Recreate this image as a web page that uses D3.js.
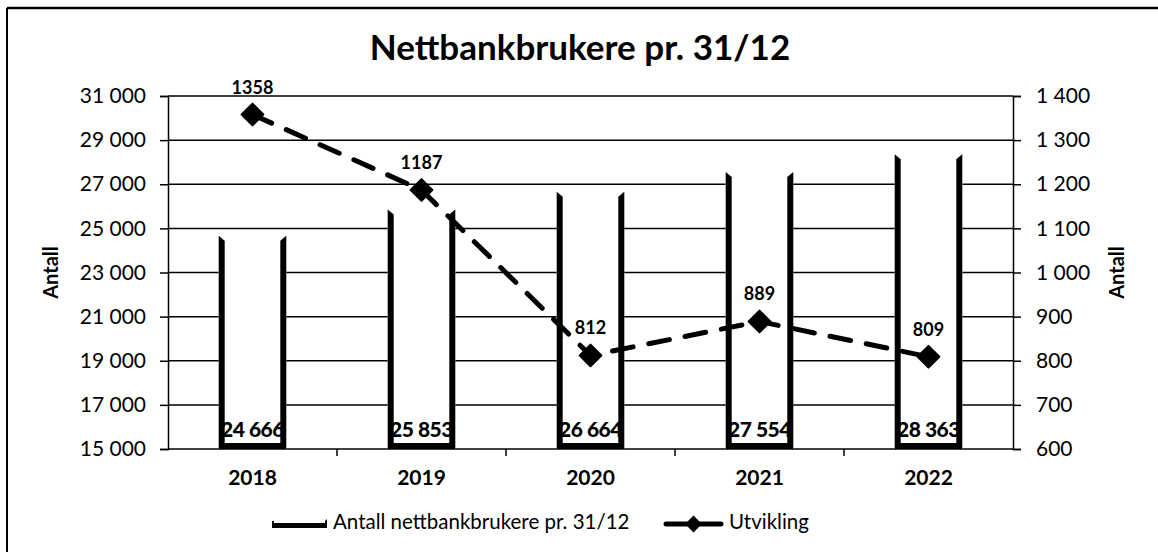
<!DOCTYPE html>
<html>
<head>
<meta charset="utf-8">
<script src="https://cdn.jsdelivr.net/npm/d3@7/dist/d3.min.js"></script>
<style>
  html, body { margin: 0; padding: 0; background: #fff; }
  svg { display: block; }
  text { font-family: Lato, "Open Sans", sans-serif; fill: #000; }
</style>
</head>
<body>
<svg id="chart" width="1158" height="552"></svg>
<script>
const categories = ["2018", "2019", "2020", "2021", "2022"];
const users = [24666, 25853, 26664, 27554, 28363];
const growth = [1358, 1187, 812, 889, 809];
const leftTicks = [15000, 17000, 19000, 21000, 23000, 25000, 27000, 29000, 31000];
const rightTicks = [600, 700, 800, 900, 1000, 1100, 1200, 1300, 1400];
const titleText = "Nettbankbrukere pr. 31/12";
const axisTitle = "Antall";
const barSeriesName = "Antall nettbankbrukere pr. 31/12";
const lineSeriesName = "Utvikling";

const svg = d3.select("#chart");
const plot = { left: 168, right: 1013, top: 96, bottom: 449 };

const fmt = v => d3.format(",")(v).replace(/,/g, " ");

// outer frame
svg.append("line").attr("x1", 7).attr("x2", 1158).attr("y1", 8).attr("y2", 8)
  .attr("stroke", "#000").attr("stroke-width", 2.5);
svg.append("line").attr("x1", 7).attr("x2", 7).attr("y1", 8).attr("y2", 552)
  .attr("stroke", "#000").attr("stroke-width", 2);

const x = d3.scaleBand().domain(categories).range([plot.left, plot.right])
  .paddingInner(0.6).paddingOuter(0.3);
const xb = d3.scaleBand().domain(categories).range([plot.left, plot.right]);
const yL = d3.scaleLinear().domain([15000, 31000]).range([plot.bottom, plot.top]);
const yR = d3.scaleLinear().domain([600, 1400]).range([plot.bottom, plot.top]);

// title
svg.append("text").attr("x", 580).attr("y", 60).attr("text-anchor", "middle")
  .attr("font-size", 35).attr("font-weight", "bold").text(titleText);

// gridlines
svg.append("g").selectAll("line").data(leftTicks.slice(1)).join("line")
  .attr("x1", plot.left).attr("x2", plot.right)
  .attr("y1", d => yL(d)).attr("y2", d => yL(d))
  .attr("stroke", "#000").attr("stroke-width", 1.5);

// left axis
const gL = svg.append("g").attr("transform", `translate(${plot.left},0)`)
  .call(d3.axisLeft(yL).tickValues(leftTicks).tickFormat(fmt).tickSize(8).tickPadding(14));
gL.select(".domain").attr("stroke-width", 1.5);
gL.selectAll(".tick line").attr("stroke-width", 1.5);
gL.selectAll("text").attr("font-size", 21).attr("font-family", "Lato, sans-serif");

// right axis
const gR = svg.append("g").attr("transform", `translate(${plot.right},0)`)
  .call(d3.axisRight(yR).tickValues(rightTicks).tickFormat(fmt).tickSize(8).tickPadding(15));
gR.select(".domain").attr("stroke-width", 1.5);
gR.selectAll(".tick line").attr("stroke-width", 1.5);
gR.selectAll("text").attr("font-size", 21).attr("font-family", "Lato, sans-serif");

// bottom axis with ticks at band boundaries
svg.append("line").attr("x1", plot.left).attr("x2", plot.right)
  .attr("y1", plot.bottom).attr("y2", plot.bottom).attr("stroke", "#000").attr("stroke-width", 1.5);
svg.append("g").selectAll("line").data(categories.slice(1)).join("line")
  .attr("x1", d => xb(d)).attr("x2", d => xb(d))
  .attr("y1", plot.bottom).attr("y2", plot.bottom + 7)
  .attr("stroke", "#000").attr("stroke-width", 1.5);
svg.append("g").selectAll("text").data(categories).join("text")
  .attr("x", d => xb(d) + xb.bandwidth() / 2).attr("y", plot.bottom + 36)
  .attr("text-anchor", "middle").attr("font-size", 21).attr("font-weight", "bold")
  .text(d => d);

// axis titles
svg.append("text").attr("transform", `translate(58,${(plot.top + plot.bottom) / 2}) rotate(-90)`)
  .attr("text-anchor", "middle").attr("font-size", 20).attr("font-weight", "bold").text(axisTitle);
svg.append("text").attr("transform", `translate(1124,${(plot.top + plot.bottom) / 2}) rotate(-90)`)
  .attr("text-anchor", "middle").attr("font-size", 20).attr("font-weight", "bold").text(axisTitle);

// bars: white fill, thick black sides and base
const edge = 6;
const bars = svg.append("g").selectAll("g").data(categories.map((c, i) => ({ c, v: users[i] }))).join("g");
bars.append("rect")
  .attr("x", d => x(d.c)).attr("y", d => yL(d.v))
  .attr("width", x.bandwidth()).attr("height", d => plot.bottom - yL(d.v))
  .attr("fill", "#fff");
bars.append("text")
  .attr("x", d => x(d.c) + x.bandwidth() / 2).attr("y", plot.bottom - 12)
  .attr("text-anchor", "middle").attr("font-size", 21).attr("font-weight", "900")
  .attr("letter-spacing", -0.5)
  .text(d => fmt(d.v));
bars.append("path").attr("fill", "#000").attr("d", d => {
  const x0 = x(d.c), x1 = x0 + x.bandwidth(), yt = yL(d.v), yb = plot.bottom;
  return `M${x0},${yt} L${x0 + edge},${yt + 5} L${x0 + edge},${yb - edge} L${x1 - edge},${yb - edge} L${x1 - edge},${yt + 5} L${x1},${yt} L${x1},${yb} L${x0},${yb} Z`;
});

// line series
const lineData = categories.map((c, i) => ({ c, v: growth[i] }));
const cx = d => x(d.c) + x.bandwidth() / 2;
svg.append("path").datum(lineData)
  .attr("d", d3.line().x(cx).y(d => yR(d.v)))
  .attr("fill", "none").attr("stroke", "#000").attr("stroke-width", 5)
  .attr("stroke-dasharray", "21,16").attr("stroke-linecap", "round");
svg.append("g").selectAll("path").data(lineData).join("path")
  .attr("transform", d => `translate(${cx(d)},${yR(d.v)})`)
  .attr("d", d3.symbol(d3.symbolDiamond2, 300))
  .attr("fill", "#000").attr("stroke", "#000").attr("stroke-width", 2).attr("stroke-linejoin", "round");
svg.append("g").selectAll("text").data(lineData).join("text")
  .attr("x", cx).attr("y", d => yR(d.v) - 21)
  .attr("text-anchor", "middle").attr("font-size", 18).attr("font-weight", "bold")
  .text(d => d.v);

// legend
const lg = svg.append("g");
lg.append("path").attr("fill", "#000")
  .attr("d", "M272,521 L272,528 L327,528 L327,519 L325,521 L325,523 L274,523 L274,521 Z");
lg.append("text").attr("x", 333).attr("y", 529).attr("font-size", 20.5).text(barSeriesName);
lg.append("line").attr("x1", 666).attr("x2", 721).attr("y1", 524).attr("y2", 524)
  .attr("stroke", "#000").attr("stroke-width", 5).attr("stroke-linecap", "round");
lg.append("path").attr("transform", "translate(693.5,524)")
  .attr("d", d3.symbol(d3.symbolDiamond2, 180)).attr("fill", "#000");
lg.append("text").attr("x", 729).attr("y", 529).attr("font-size", 20.5).text(lineSeriesName);
</script>
</body>
</html>
